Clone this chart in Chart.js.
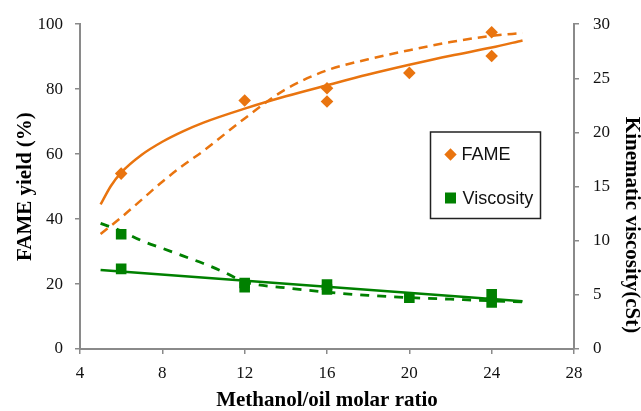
<!DOCTYPE html>
<html>
<head>
<meta charset="utf-8">
<script src="https://cdn.jsdelivr.net/npm/chart.js@4"></script>
<style>
  html, body { margin: 0; padding: 0; background: #fff; }
  #wrap { width: 641px; height: 411px; }
</style>
</head>
<body>
<div id="wrap"><canvas id="chart" width="641" height="411"></canvas></div>
<script>
// measured points
var fameRatio = [6, 12, 16, 16, 20, 24, 24];
var fameYield = [54, 76.5, 80.3, 76.2, 85, 97.5, 90.2];
var viscRatio = [6, 6, 12, 12, 16, 16, 20, 24, 24];
var viscValue = [7.4, 10.6, 6.1, 5.7, 5.95, 5.5, 4.75, 5.05, 4.3];

// trend curves
var fameFitX = [5, 5.5, 6, 7, 8, 9, 10, 12, 14, 16, 18, 20, 22, 24, 25.5];
var fameFit = [44.5, 50.2, 54.3, 59.8, 63.8, 67, 69.7, 74, 77.8, 81.2, 84.5, 87.5, 90.3, 92.8, 95];
var fameDashX = [5, 6, 7, 8, 9, 10, 12, 14, 16, 18, 20, 22, 24, 25.5];
var fameDash = [35.4, 40.5, 46, 51.5, 56.5, 61, 71, 80, 85.8, 89.2, 92, 94.5, 96.4, 97.3];
var viscFitX = [5, 25.5];
var viscFit = [7.3, 4.4];
var viscDashX = [5, 6, 7, 8, 9, 10, 11, 12, 14, 16, 18, 20, 22, 24, 25.5];
var viscDash = [11.6, 10.9, 10.0, 9.3, 8.6, 7.9, 7.1, 6.2, 5.65, 5.25, 4.95, 4.75, 4.6, 4.45, 4.35];

var xTicks = [4, 8, 12, 16, 20, 24, 28];

var ORANGE = '#E9740F';
var GREEN = '#008000';
var AXIS = '#8a8a8a';

function pts(xs, ys) {
    var out = [];
    for (var i = 0; i < xs.length; i++) out.push({x: xs[i], y: ys[i]});
    return out;
}

var tickFont = {family: '"Liberation Serif", "Times New Roman", serif', size: 17};
var titleFont = {family: '"Liberation Serif", "Times New Roman", serif', size: 21, weight: 'bold'};

var extras = {
    id: 'extras',
    afterDraw: function(chart) {
        var ctx = chart.ctx;
        ctx.save();
        // legend box
        ctx.strokeStyle = '#222';
        ctx.lineWidth = 1.5;
        ctx.strokeRect(430.5, 132, 110, 86.5);
        ctx.fillStyle = ORANGE;
        ctx.beginPath();
        ctx.moveTo(450.5, 148.3);
        ctx.lineTo(456.7, 154.5);
        ctx.lineTo(450.5, 160.7);
        ctx.lineTo(444.3, 154.5);
        ctx.closePath();
        ctx.fill();
        ctx.fillStyle = GREEN;
        ctx.fillRect(445, 192.5, 11, 11);
        ctx.fillStyle = '#111';
        ctx.font = '18px "Liberation Sans", Arial, sans-serif';
        ctx.textBaseline = 'alphabetic';
        ctx.fillText('FAME', 461.5, 159.5);
        ctx.fillText('Viscosity', 462.5, 204);
        // right axis title, sits lower than the axis middle
        ctx.translate(631, 225);
        ctx.rotate(Math.PI / 2);
        ctx.fillStyle = '#000';
        ctx.font = 'bold 21px "Liberation Serif", "Times New Roman", serif';
        ctx.textAlign = 'center';
        ctx.textBaseline = 'middle';
        ctx.fillText('Kinematic viscosity(cSt)', 0, 0);
        ctx.restore();
    }
};

new Chart(document.getElementById('chart'), {
    type: 'scatter',
    data: {
        datasets: [
            {label: 'FAME', data: pts(fameRatio, fameYield), yAxisID: 'y',
             pointStyle: 'rectRot', pointRadius: 6.3, backgroundColor: ORANGE, borderColor: ORANGE, borderWidth: 0},
            {label: 'Viscosity', data: pts(viscRatio, viscValue), yAxisID: 'y1',
             pointStyle: 'rect', pointRadius: 7.5, backgroundColor: GREEN, borderColor: GREEN, borderWidth: 0},
            {label: 'fame fit', data: pts(fameFitX, fameFit), yAxisID: 'y', showLine: true,
             pointRadius: 0, borderColor: ORANGE, borderWidth: 2.5, cubicInterpolationMode: 'monotone'},
            {label: 'fame dash', data: pts(fameDashX, fameDash), yAxisID: 'y', showLine: true,
             pointRadius: 0, borderColor: ORANGE, borderWidth: 2.5, borderDash: [9, 6], cubicInterpolationMode: 'monotone'},
            {label: 'visc fit', data: pts(viscFitX, viscFit), yAxisID: 'y1', showLine: true,
             pointRadius: 0, borderColor: GREEN, borderWidth: 2.5},
            {label: 'visc dash', data: pts(viscDashX, viscDash), yAxisID: 'y1', showLine: true,
             pointRadius: 0, borderColor: GREEN, borderWidth: 2.8, borderDash: [9, 8], cubicInterpolationMode: 'monotone'}
        ]
    },
    options: {
        responsive: false,
        animation: false,
        layout: {padding: {top: 21, left: 0, right: 0, bottom: 0}},
        plugins: {legend: {display: false}, tooltip: {enabled: false}},
        scales: {
            x: {
                type: 'linear', min: 4, max: 28,
                afterBuildTicks: function(s) { s.ticks = xTicks.map(function(v) { return {value: v}; }); },
                afterFit: function(s) { s.height = 62; },
                grid: {drawOnChartArea: false, color: AXIS, tickLength: 5, lineWidth: 1.5},
                border: {color: AXIS, width: 2},
                ticks: {font: tickFont, color: '#111', padding: 9, maxRotation: 0},
                title: {display: true, text: 'Methanol/oil molar ratio', font: Object.assign({lineHeight: 1}, titleFont),
                        color: '#000', padding: 0}
            },
            y: {
                position: 'left', min: 0, max: 100,
                ticks: {stepSize: 20, font: tickFont, color: '#111', padding: 12},
                afterFit: function(s) { s.width = 80; },
                grid: {drawOnChartArea: false, color: AXIS, tickLength: 5, lineWidth: 1.5},
                border: {color: AXIS, width: 2},
                title: {display: true, text: 'FAME yield (%)', font: Object.assign({lineHeight: 1.2}, titleFont),
                        color: '#000', padding: {top: 13, bottom: 0}}
            },
            y1: {
                position: 'right', min: 0, max: 30,
                ticks: {stepSize: 5, font: tickFont, color: '#111', padding: 14},
                afterFit: function(s) { s.width = 67; },
                grid: {drawOnChartArea: false, color: AXIS, tickLength: 5, lineWidth: 1.5},
                border: {color: AXIS, width: 2}
            }
        }
    },
    plugins: [extras]
});
</script>
</body>
</html>
